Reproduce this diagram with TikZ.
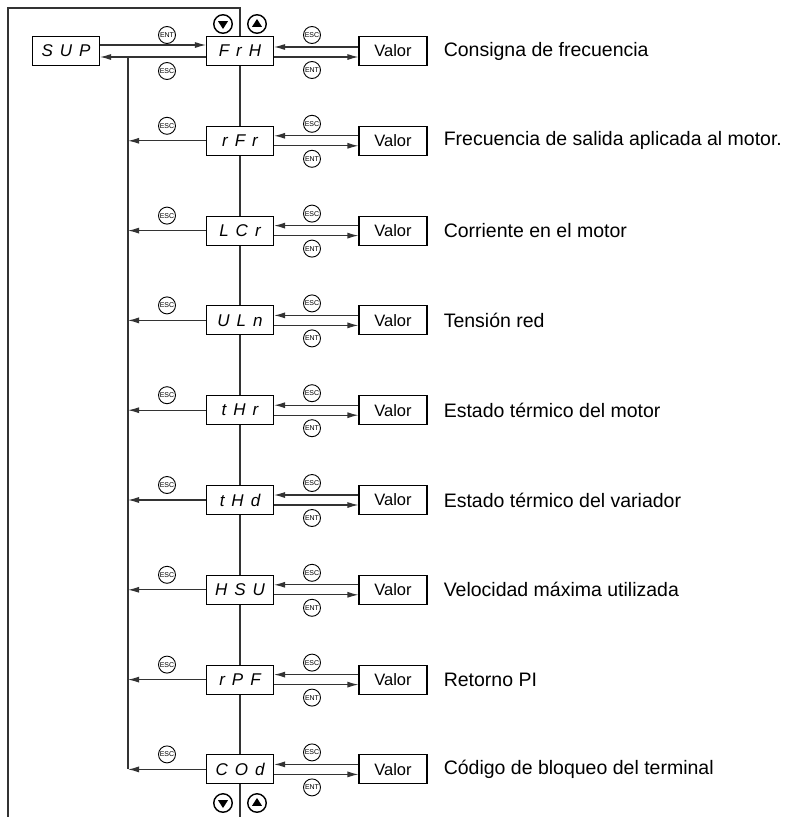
\documentclass[tikz,border=0pt]{standalone}
\usepackage{fontspec}
\setmainfont{Liberation Sans}
\usetikzlibrary{arrows.meta,positioning}

\newcommand{\lcd}[3]{#1\hspace{7pt}#2\hspace{7pt}#3}
\newcommand{\dntri}[1]{\fill ([shift={(-5pt,2.8pt)}]#1.center) -- ([shift={(5pt,2.8pt)}]#1.center) -- ([shift={(0pt,-5pt)}]#1.center) -- cycle;}
\newcommand{\uptri}[1]{\fill ([shift={(-5pt,-2.8pt)}]#1.center) -- ([shift={(5pt,-2.8pt)}]#1.center) -- ([shift={(0pt,5pt)}]#1.center) -- cycle;}

\begin{document}
\begin{tikzpicture}[
    x=1pt, y=-1pt,
    >={Latex[length=11pt,width=6pt]},
    wire/.style={line width=1.1pt, black!80},
    lcdbox/.style={draw, line width=1.1pt, fill=white, minimum width=67pt, minimum height=29pt, inner sep=0pt,
        font=\fontsize{17}{17}\selectfont\itshape},
    valbox/.style={draw, line width=1.1pt, fill=white, minimum width=68pt, minimum height=29pt, inner sep=0pt,
        font=\fontsize{16.5}{16.5}\selectfont},
    key/.style={circle, draw, line width=0.9pt, fill=white, minimum size=17pt, inner sep=0pt,
        font=\fontsize{7}{7}\selectfont},
    navkey/.style={circle, draw, line width=1.4pt, fill=white, minimum size=18.5pt, inner sep=0pt},
    lbl/.style={anchor=west, inner sep=0pt, font=\fontsize{19.5}{19.5}\selectfont}
]
    \useasboundingbox (0,0) rectangle (790,817);

    \draw[wire] (8,817) |- (240,8) -- (240,817);

    \node[lcdbox] (sup) at (66,51) {\lcd{S}{U}{P}};
    \node[lcdbox] (c1) at (240,51) {\lcd{F}{r}{H}};
    \node[valbox] (v1) at (393,51) {Valor};
    \node[lbl, right=16pt of v1] (t1) {Consigna de frecuencia};

    \draw[wire, ->] ([yshift=6pt]sup.east) -- ([yshift=6pt]c1.west);
    \draw[wire, ->] ([yshift=-6pt]c1.west) -- ([yshift=-6pt]sup.east);
    \coordinate (trunktop) at (128,57);
    \node[key] (ent0) at (167,35) {ENT};
    \node[key] (esc0) at (167,71) {ESC};

    \draw[wire, ->] ([yshift=4pt]v1.west) -- ([yshift=4pt]c1.east);
    \draw[wire, ->] ([yshift=-6pt]c1.east) -- ([yshift=-6pt]v1.west);
    \node[key] (esc1) at (312,35) {ESC};
    \node[key] (ent1) at (312,70) {ENT};

    \node[navkey] (dntop) at (223,24) {};
    \node[navkey] (uptop) at (257,24) {};
    \dntri{dntop}
    \uptri{uptop}

    \foreach \i/\a/\b/\c/\txt in {
        2/r/F/r/{Frecuencia de salida aplicada al motor.},
        3/L/C/r/{Corriente en el motor},
        4/U/L/n/{Tensión red},
        5/t/H/r/{Estado térmico del motor},
        6/t/H/d/{Estado térmico del variador},
        7/H/S/U/{Velocidad máxima utilizada},
        8/r/P/F/{Retorno PI},
        9/C/O/d/{Código de bloqueo del terminal}} {
        \pgfmathsetmacro\yy{51+(\i-1)*89.8}
        \node[lcdbox] (c\i) at (240,\yy) {\lcd{\a}{\b}{\c}};
        \node[valbox] (v\i) at (393,\yy) {Valor};
        \node[lbl, right=16pt of v\i] (t\i) {\txt};
        \coordinate (tr\i) at (128,\yy);
        \draw[wire, ->] (c\i.west) -- (tr\i);
        \node[key] (lesc\i) at (167,\yy-15) {ESC};
        \draw[wire, ->] ([yshift=5pt]v\i.west) -- ([yshift=5pt]c\i.east);
        \draw[wire, ->] ([yshift=-5pt]c\i.east) -- ([yshift=-5pt]v\i.west);
        \node[key] (esc\i) at (312,\yy-17) {ESC};
        \node[key] (ent\i) at (312,\yy+18) {ENT};
    }
    \draw[wire] (trunktop) -- (tr9);

    \node[navkey] (dnbot) at (223,803) {};
    \node[navkey] (upbot) at (257,803) {};
    \dntri{dnbot}
    \uptri{upbot}
\end{tikzpicture}
\end{document}
